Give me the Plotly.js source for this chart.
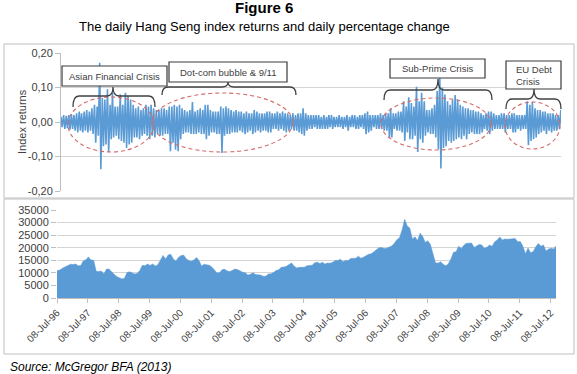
<!DOCTYPE html>
<html>
<head>
<meta charset="utf-8">
<script src="https://cdn.plot.ly/plotly-3.0.1.min.js"></script>
<style>html,body{margin:0;padding:0;background:#fff;}#chart{width:577px;height:374px;}</style>
</head>
<body>
<div id="chart"></div>
<script>
// ---- Data (monthly, Jul 1996 – Sep 2012) ----
const startYear = 1996, startMonth = 7; // July 1996
// Highest daily return within each month
const retHigh = [
  .015,.02,.018,.02,.022,.02,
  .025,.03,.025,.03,.035,.03,.04,.05,.045,.172,.07,.065,
  .095,.05,.085,.045,.045,.08,.05,.085,.075,.065,.05,.04,
  .045,.035,.04,.05,.045,.05,.04,.035,.035,.04,.04,.035,
  .045,.045,.05,.045,.05,.04,.035,.03,.035,.058,.03,.035,
  .04,.035,.05,.05,.035,.03,.03,.03,.045,.04,.045,.04,
  .035,.03,.035,.03,.03,.025,.03,.025,.025,.035,.03,.025,
  .025,.025,.03,.03,.025,.025,.03,.025,.03,.025,.025,.02,
  .025,.02,.025,.025,.04,.025,.02,.02,.02,.02,.02,.015,
  .02,.015,.02,.02,.015,.015,.02,.015,.015,.02,.015,.02,
  .02,.015,.02,.02,.025,.03,.02,.02,.02,.02,.025,.02,
  .025,.025,.04,.025,.025,.03,.03,.06,.045,.072,.055,.045,
  .102,.06,.085,.06,.035,.035,.04,.05,.09,.143,.10,.08,
  .06,.05,.065,.078,.065,.05,.045,.04,.04,.035,.035,.03,
  .03,.025,.02,.025,.03,.03,.025,.02,.02,.025,.025,.02,
  .02,.025,.025,.02,.02,.02,.02,.06,.05,.058,.04,.035,
  .035,.03,.03,.025,.025,.025,.02,.02,.035
];
// Lowest daily return within each month
const retLow = [
  -.015,-.02,-.018,-.022,-.02,-.025,
  -.03,-.025,-.03,-.025,-.03,-.025,-.035,-.06,-.04,-.137,-.07,-.065,
  -.087,-.05,-.045,-.04,-.05,-.055,-.06,-.075,-.065,-.06,-.045,-.045,
  -.05,-.04,-.035,-.04,-.05,-.04,-.045,-.035,-.04,-.04,-.035,-.035,
  -.085,-.06,-.08,-.085,-.05,-.035,-.03,-.03,-.035,-.035,-.035,-.03,
  -.035,-.035,-.05,-.04,-.03,-.03,-.035,-.035,-.09,-.04,-.035,-.035,
  -.03,-.03,-.03,-.025,-.03,-.035,-.03,-.025,-.035,-.03,-.025,-.03,
  -.025,-.025,-.03,-.03,-.02,-.02,-.025,-.02,-.025,-.03,-.025,-.02,
  -.025,-.025,-.03,-.035,-.04,-.025,-.02,-.02,-.015,-.02,-.02,-.02,
  -.02,-.02,-.015,-.02,-.015,-.015,-.015,-.02,-.015,-.025,-.015,-.015,
  -.02,-.02,-.015,-.02,-.035,-.03,-.025,-.015,-.02,-.02,-.02,-.025,
  -.025,-.045,-.045,-.02,-.025,-.025,-.03,-.055,-.03,-.05,-.05,-.04,
  -.087,-.05,-.06,-.04,-.03,-.035,-.035,-.045,-.08,-.135,-.075,-.07,
  -.055,-.06,-.055,-.05,-.045,-.05,-.04,-.05,-.035,-.03,-.035,-.035,
  -.035,-.03,-.02,-.025,-.035,-.025,-.02,-.02,-.02,-.02,-.03,-.02,
  -.02,-.03,-.03,-.02,-.025,-.02,-.02,-.067,-.055,-.05,-.045,-.035,
  -.03,-.025,-.035,-.025,-.03,-.025,-.025,-.02,-.025
];
// Hang Seng index level (monthly)
const hsiLevel = [
  10800,11200,11900,12400,13200,13450,
  13300,13500,12800,12900,14750,15200,16350,15100,15050,10600,10550,10700,
  9600,11500,11500,10200,9400,8550,8000,7600,7900,10150,10400,10050,
  9500,9850,10950,13000,12800,13500,12950,13550,12750,13250,15400,16950,
  15550,17150,17400,15500,14700,16150,16850,17100,15650,14900,14650,15100,
  16100,14800,12750,13400,13200,13050,12300,10950,9950,10050,11300,11400,
  10750,10500,11050,11500,11300,10600,10250,10050,9100,9450,10050,9300,
  9250,9100,8650,8700,9500,9600,10150,10900,11250,12200,12300,12600,
  13300,13900,12700,11950,12200,12300,12250,12850,13100,13050,14050,14250,
  13700,14200,13500,13900,13850,14200,14900,14900,15450,14400,14950,14900,
  15750,15900,15800,16650,15850,16250,16950,17400,17550,18300,18950,19950,
  20100,19650,19800,20300,20650,21750,23200,23950,27150,31350,28650,27800,
  23450,24350,22850,25750,24550,22100,22750,21250,18000,13950,13900,14400,
  13300,12800,13600,15500,18150,18400,20550,19700,20950,21750,21800,21850,
  20100,20600,21250,21100,19750,20150,21050,20550,22350,23100,24300,23050,
  23450,23350,23550,23700,23700,22400,22450,20550,17600,19850,17950,18450,
  20400,21700,20550,21100,18650,19450,19800,19500,20850
];
const tickDates = ['1996-07-08','1997-07-08','1998-07-08','1999-07-08','2000-07-08','2001-07-08',
  '2002-07-08','2003-07-08','2004-07-08','2005-07-08','2006-07-08','2007-07-08','2008-07-08',
  '2009-07-08','2010-07-08','2011-07-08','2012-07-08'];
const retTicks = [-0.2,-0.1,0,0.1,0.2];
const retTickText = ['-0,20','-0,10','0,00','0,10','0,20'];
const crisisLabels = ['Asian Financial Crisis','Dot-com bubble &amp; 9/11','Sub-Prime Crisis','EU Debt<br>Crisis'];

// ---- Build traces ----
function ds(y,m,d){const dt=new Date(Date.UTC(y,m-1,d));return dt.toISOString().slice(0,10);}
const rx=[], ry=[], lx=[];
for(let i=0;i<retHigh.length;i++){
  const y=startYear+Math.floor((startMonth-1+i)/12), m=((startMonth-1+i)%12)+1;
  rx.push(ds(y,m,8)); ry.push(retHigh[i]);
  rx.push(ds(y,m,22)); ry.push(retLow[i]);
}
for(let i=0;i<hsiLevel.length;i++){
  const y=startYear+Math.floor((startMonth-1+i)/12), m=((startMonth-1+i)%12)+1;
  lx.push(ds(y,m,i===0?8:15));
}
const blue='#5B9BD5';
const traces=[
  {x:rx,y:ry,type:'scatter',mode:'lines',line:{color:blue,width:1.6},xaxis:'x',yaxis:'y',hoverinfo:'skip'},
  {x:lx,y:hsiLevel,type:'scatter',mode:'lines',fill:'tozeroy',fillcolor:blue,line:{color:blue,width:0.5},xaxis:'x2',yaxis:'y2',hoverinfo:'skip'}
];

// ---- Layout helpers (pixel -> paper) ----
const W=577,H=374;
const X=p=>p/W, Y=p=>1-p/H;
const xr=['1996-07-08','2012-09-10'];
const grid='#d4d4d4', axc='#bfbfbf', txt='#404040';
function rect(x0,y0,x1,y1,opt){return Object.assign({type:'rect',xref:'paper',yref:'paper',x0:X(x0),x1:X(x1),y0:Y(y1),y1:Y(y0),line:{color:axc,width:1}},opt||{});}
function ell(x0,y0,x1,y1){return {type:'circle',xref:'paper',yref:'paper',x0:X(x0),x1:X(x1),y0:Y(y1),y1:Y(y0),line:{color:'#D46A6A',width:1.1,dash:'4px,3px'}};}
function brace(xL,xR,xC,yB,yM,yT){
  const r=6,P=(a,b)=>X(a).toFixed(5)+','+Y(b).toFixed(5);
  return {type:'path',xref:'paper',yref:'paper',line:{color:'#404040',width:1.3},
    path:'M'+P(xL,yB)+' Q'+P(xL,yM)+' '+P(xL+r,yM)+' L'+P(xC-r,yM)+' Q'+P(xC,yM)+' '+P(xC,yT)+
         ' Q'+P(xC,yM)+' '+P(xC+r,yM)+' L'+P(xR-r,yM)+' Q'+P(xR,yM)+' '+P(xR,yB)};
}
const boxLine={color:'#3a3a3a',width:1.2};
const shapes=[
  rect(4,44,574,198),
  rect(4,199,574,354),
  ell(68,97,154,152), ell(152,93,293,152), ell(381,98,491,150), ell(505,102,560,149),
  brace(73,155,113,107,96,87), brace(162,296,228,95,87,82), brace(384,492,438,100,90,79), brace(506,561,534,109,99,89),
  rect(62,66,167,86,{fillcolor:'#fff',line:boxLine}),
  rect(169,62,287,82,{fillcolor:'#fff',line:boxLine}),
  rect(390,59,485,78,{fillcolor:'#fff',line:boxLine}),
  rect(506,61,561,89,{fillcolor:'#fff',line:boxLine})
];
const af={family:'Liberation Sans, Arial, sans-serif',size:9.5,color:txt};
const annotations=[
  {xref:'paper',yref:'paper',x:X(264),y:Y(7.5),text:'<b>Figure 6</b>',showarrow:false,font:{family:'Liberation Sans, Arial, sans-serif',size:15,color:'#000'},xanchor:'center',yanchor:'middle'},
  {xref:'paper',yref:'paper',x:X(264),y:Y(27),text:'The daily Hang Seng index returns and daily percentage change',showarrow:false,font:{family:'Liberation Sans, Arial, sans-serif',size:13,color:'#000'},xanchor:'center',yanchor:'middle'},
  {xref:'paper',yref:'paper',x:X(8),y:Y(366.5),text:'<i>Source: McGregor BFA (2013)</i>',showarrow:false,font:{family:'Liberation Sans, Arial, sans-serif',size:12,color:'#000'},xanchor:'left',yanchor:'middle'},
  {xref:'paper',yref:'paper',x:X(21.5),y:Y(121.5),text:'Index returns',textangle:-90,showarrow:false,font:{family:'Liberation Sans, Arial, sans-serif',size:11,color:txt},xanchor:'center',yanchor:'middle'},
  {xref:'paper',yref:'paper',x:X(114.5),y:Y(76),text:crisisLabels[0],showarrow:false,font:af,xanchor:'center',yanchor:'middle'},
  {xref:'paper',yref:'paper',x:X(228),y:Y(72),text:crisisLabels[1],showarrow:false,font:af,xanchor:'center',yanchor:'middle'},
  {xref:'paper',yref:'paper',x:X(437.5),y:Y(68.5),text:crisisLabels[2],showarrow:false,font:af,xanchor:'center',yanchor:'middle'},
  {xref:'paper',yref:'paper',x:X(514),y:Y(75),text:crisisLabels[3],showarrow:false,font:af,xanchor:'left',yanchor:'middle',align:'left'}
];
const layout={
  width:577,height:374,margin:{l:0,r:0,t:0,b:0},paper_bgcolor:'#fff',plot_bgcolor:'#fff',showlegend:false,
  separators:',.',
  font:{family:'Liberation Sans, Arial, sans-serif',size:11,color:txt},
  xaxis:{domain:[X(61),X(561)],range:xr,type:'date',showticklabels:false,showgrid:false,zeroline:false,showline:false,ticks:'',anchor:'y',fixedrange:true},
  yaxis:{domain:[Y(191),Y(53)],range:[-0.2,0.2],tickvals:retTicks,ticktext:retTickText,showgrid:true,gridcolor:grid,gridwidth:1,
    showline:true,linecolor:axc,ticks:'outside',ticklen:5,tickcolor:axc,zeroline:false,anchor:'x',tickfont:{size:11,color:txt},fixedrange:true},
  xaxis2:{domain:[X(57),X(556)],range:xr,type:'date',tickvals:tickDates,tickformat:'%d-%b-%y',tickangle:-45,tickfont:{size:10,color:txt},
    showline:true,linecolor:axc,ticks:'outside',ticklen:4,tickcolor:axc,showgrid:false,zeroline:false,anchor:'y2',fixedrange:true},
  yaxis2:{domain:[Y(298),Y(210)],range:[0,35000],dtick:5000,tick0:0,tickformat:'d',showgrid:true,gridcolor:grid,gridwidth:1,
    showline:false,ticks:'outside',ticklen:5,tickcolor:axc,zeroline:false,anchor:'x2',tickfont:{size:11,color:txt},fixedrange:true},
  shapes:shapes,annotations:annotations
};
Plotly.newPlot('chart',traces,layout,{displayModeBar:false,staticPlot:true});
</script>
</body>
</html>
